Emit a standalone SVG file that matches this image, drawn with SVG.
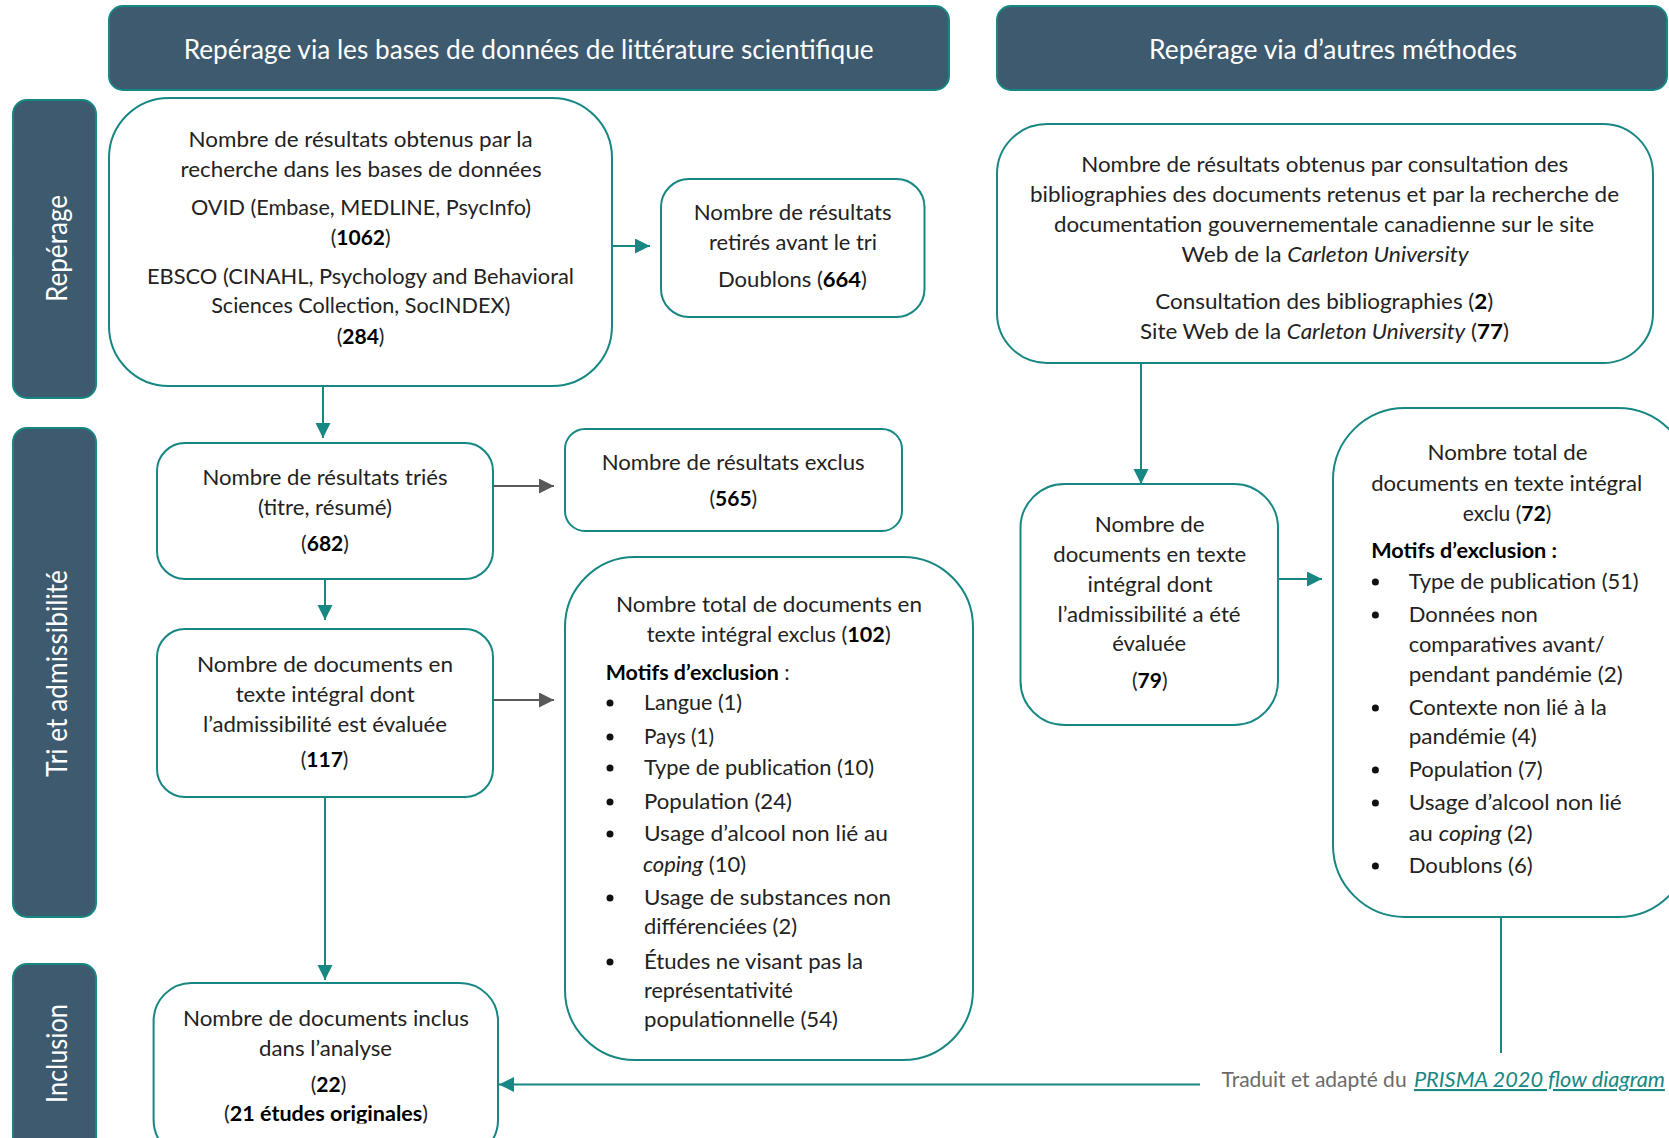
<svg xmlns="http://www.w3.org/2000/svg" width="1669" height="1138" viewBox="0 0 1669 1138">
<style>
.box{fill:#fff;stroke:#178783;stroke-width:2}
.band{fill:#3d5a6e;stroke:#178783;stroke-width:2}
text{font-family:Lato,"Open Sans","Liberation Sans",sans-serif}
.t{font-size:21px;fill:#222}
.m{text-anchor:middle}
.h{font-size:27px;fill:#fff}
.s{font-size:28px;fill:#fff}
.b{font-weight:700;fill:#000}
.i{font-style:italic}
.c{stroke:#178783;stroke-width:2;fill:none}
.g{stroke:#595959;stroke-width:2;fill:none}
.dot{fill:#111}
.f{font-size:21px;fill:#6b6b6b}
.lk{font-size:21px;fill:#178783;font-style:italic;text-decoration:underline}
</style>
<defs>
<marker id="at" markerUnits="userSpaceOnUse" markerWidth="16" markerHeight="16" refX="15" refY="7.5" orient="auto"><path d="M0,0 L15,7.5 L0,15 Z" fill="#178783"/></marker>
<marker id="ag" markerUnits="userSpaceOnUse" markerWidth="16" markerHeight="16" refX="15" refY="7.5" orient="auto"><path d="M0,0 L15,7.5 L0,15 Z" fill="#595959"/></marker>
<clipPath id="clipF"><rect x="0" y="0" width="1669" height="1123.5"/></clipPath>
</defs>

<g id="header-db">
<rect class="band" x="109" y="6" width="840" height="84" rx="14"/>
<text class="h" x="183.7" y="59" textLength="690" lengthAdjust="spacingAndGlyphs">Repérage via les bases de données de littérature scientifique</text>
</g>
<g id="header-other">
<rect class="band" x="997" y="6" width="670" height="84" rx="14"/>
<text class="h" x="1149" y="59" textLength="368" lengthAdjust="spacingAndGlyphs">Repérage via d’autres méthodes</text>
</g>

<g id="side-reperage">
<rect class="band" x="13" y="100" width="83" height="298" rx="14"/>
<text class="s" transform="translate(66.5,302) rotate(-90)" textLength="107" lengthAdjust="spacingAndGlyphs">Repérage</text>
</g>
<g id="side-tri">
<rect class="band" x="13" y="428" width="83" height="489" rx="14"/>
<text class="s" transform="translate(67,777) rotate(-90)" textLength="207" lengthAdjust="spacingAndGlyphs">Tri et admissibilité</text>
</g>
<g id="side-inclusion">
<rect class="band" x="13" y="964" width="83" height="190" rx="14"/>
<text class="s" transform="translate(67,1103) rotate(-90)" textLength="99" lengthAdjust="spacingAndGlyphs">Inclusion</text>
</g>

<g id="box-db-results">
<rect class="box" x="109" y="98" width="503" height="288" rx="60"/>
<text class="t" x="188.6" y="147" textLength="344" lengthAdjust="spacingAndGlyphs">Nombre de résultats obtenus par la</text>
<text class="t" x="180.6" y="177" textLength="361" lengthAdjust="spacingAndGlyphs">recherche dans les bases de données</text>
<text class="t" x="191" y="215" textLength="340" lengthAdjust="spacingAndGlyphs">OVID (Embase, MEDLINE, PsycInfo)</text>
<text class="t m" x="360.7" y="245">(<tspan class="b">1062</tspan>)</text>
<text class="t" x="147" y="284" textLength="427" lengthAdjust="spacingAndGlyphs">EBSCO (CINAHL, Psychology and Behavioral</text>
<text class="t" x="211.2" y="313" textLength="299" lengthAdjust="spacingAndGlyphs">Sciences Collection, SocINDEX)</text>
<text class="t m" x="360.6" y="344">(<tspan class="b">284</tspan>)</text>
</g>

<g id="box-removed">
<rect class="box" x="661" y="179" width="263.5" height="138" rx="28"/>
<text class="t" x="693.7" y="220" textLength="198" lengthAdjust="spacingAndGlyphs">Nombre de résultats</text>
<text class="t" x="709" y="250" textLength="168" lengthAdjust="spacingAndGlyphs">retirés avant le tri</text>
<text class="t" x="718" y="287" textLength="149" lengthAdjust="spacingAndGlyphs">Doublons (<tspan class="b">664</tspan>)</text>
</g>

<g id="box-other-results">
<rect class="box" x="997" y="124" width="656" height="239" rx="50"/>
<text class="t" x="1081.2" y="172" textLength="487" lengthAdjust="spacingAndGlyphs">Nombre de résultats obtenus par consultation des</text>
<text class="t" x="1030" y="202" textLength="589" lengthAdjust="spacingAndGlyphs">bibliographies des documents retenus et par la recherche de</text>
<text class="t" x="1054" y="232" textLength="540" lengthAdjust="spacingAndGlyphs">documentation gouvernementale canadienne sur le site</text>
<text class="t" x="1181.6" y="262" textLength="287" lengthAdjust="spacingAndGlyphs">Web de la <tspan class="i">Carleton University</tspan></text>
<text class="t" x="1155.3" y="309" textLength="338" lengthAdjust="spacingAndGlyphs">Consultation des bibliographies (<tspan class="b">2</tspan>)</text>
<text class="t" x="1140" y="339" textLength="369" lengthAdjust="spacingAndGlyphs">Site Web de la <tspan class="i">Carleton University</tspan> (<tspan class="b">77</tspan>)</text>
</g>

<g id="box-screened">
<rect class="box" x="157" y="443" width="336" height="136" rx="28"/>
<text class="t" x="202.5" y="485" textLength="245" lengthAdjust="spacingAndGlyphs">Nombre de résultats triés</text>
<text class="t" x="257.9" y="515" textLength="134" lengthAdjust="spacingAndGlyphs">(titre, résumé)</text>
<text class="t m" x="325" y="551">(<tspan class="b">682</tspan>)</text>
</g>

<g id="box-excluded">
<rect class="box" x="565" y="429" width="337" height="102" rx="20"/>
<text class="t" x="601.7" y="470" textLength="263" lengthAdjust="spacingAndGlyphs">Nombre de résultats exclus</text>
<text class="t m" x="733.3" y="506">(<tspan class="b">565</tspan>)</text>
</g>

<g id="box-fulltext">
<rect class="box" x="157" y="629" width="336" height="168" rx="28"/>
<text class="t" x="197" y="672" textLength="256" lengthAdjust="spacingAndGlyphs">Nombre de documents en</text>
<text class="t" x="235.7" y="702" textLength="179" lengthAdjust="spacingAndGlyphs">texte intégral dont</text>
<text class="t" x="203" y="732" textLength="244" lengthAdjust="spacingAndGlyphs">l’admissibilité est évaluée</text>
<text class="t m" x="324.6" y="767">(<tspan class="b">117</tspan>)</text>
</g>

<g id="box-fulltext-excluded">
<rect class="box" x="565" y="557" width="408" height="503" rx="70"/>
<text class="t" x="616" y="612" textLength="306" lengthAdjust="spacingAndGlyphs">Nombre total de documents en</text>
<text class="t" x="646.7" y="642" textLength="244" lengthAdjust="spacingAndGlyphs">texte intégral exclus (<tspan class="b">102</tspan>)</text>
<text class="t" x="605.7" y="680" textLength="184" lengthAdjust="spacingAndGlyphs"><tspan class="b">Motifs d’exclusion</tspan> :</text>
<circle class="dot" cx="610" cy="703" r="3.5"/>
<text class="t" x="644" y="710" textLength="98" lengthAdjust="spacingAndGlyphs">Langue (1)</text>
<circle class="dot" cx="610" cy="737" r="3.5"/>
<text class="t" x="644" y="744" textLength="70" lengthAdjust="spacingAndGlyphs">Pays (1)</text>
<circle class="dot" cx="610" cy="768" r="3.5"/>
<text class="t" x="644" y="775" textLength="230" lengthAdjust="spacingAndGlyphs">Type de publication (10)</text>
<circle class="dot" cx="610" cy="802" r="3.5"/>
<text class="t" x="644" y="809" textLength="148" lengthAdjust="spacingAndGlyphs">Population (24)</text>
<circle class="dot" cx="610" cy="834" r="3.5"/>
<text class="t" x="644" y="841" textLength="244" lengthAdjust="spacingAndGlyphs">Usage d’alcool non lié au</text>
<text class="t" x="643" y="872" textLength="103" lengthAdjust="spacingAndGlyphs"><tspan class="i">coping</tspan> (10)</text>
<circle class="dot" cx="610" cy="898" r="3.5"/>
<text class="t" x="644" y="905" textLength="247" lengthAdjust="spacingAndGlyphs">Usage de substances non</text>
<text class="t" x="644" y="934" textLength="153" lengthAdjust="spacingAndGlyphs">différenciées (2)</text>
<circle class="dot" cx="610" cy="962" r="3.5"/>
<text class="t" x="644" y="969" textLength="219" lengthAdjust="spacingAndGlyphs">Études ne visant pas la</text>
<text class="t" x="644" y="998" textLength="149" lengthAdjust="spacingAndGlyphs">représentativité</text>
<text class="t" x="644" y="1027" textLength="194" lengthAdjust="spacingAndGlyphs">populationnelle (54)</text>
</g>

<g id="box-other-fulltext">
<rect class="box" x="1020.5" y="484" width="257.5" height="241" rx="44"/>
<text class="t" x="1094.7" y="532" textLength="110" lengthAdjust="spacingAndGlyphs">Nombre de</text>
<text class="t" x="1053.3" y="562" textLength="193" lengthAdjust="spacingAndGlyphs">documents en texte</text>
<text class="t" x="1087.5" y="592" textLength="125" lengthAdjust="spacingAndGlyphs">intégral dont</text>
<text class="t" x="1057.6" y="622" textLength="183" lengthAdjust="spacingAndGlyphs">l’admissibilité a été</text>
<text class="t" x="1112.2" y="651" textLength="74" lengthAdjust="spacingAndGlyphs">évaluée</text>
<text class="t m" x="1149.7" y="688">(<tspan class="b">79</tspan>)</text>
</g>

<g id="box-other-excluded">
<rect class="box" x="1333" y="408" width="357" height="509" rx="72"/>
<text class="t" x="1427.5" y="460" textLength="160" lengthAdjust="spacingAndGlyphs">Nombre total de</text>
<text class="t" x="1371.2" y="491" textLength="271" lengthAdjust="spacingAndGlyphs">documents en texte intégral</text>
<text class="t m" x="1507" y="521">exclu (<tspan class="b">72</tspan>)</text>
<text class="t b" x="1371.2" y="558" textLength="186" lengthAdjust="spacingAndGlyphs">Motifs d’exclusion :</text>
<circle class="dot" cx="1375.4" cy="582" r="3.5"/>
<text class="t" x="1408.7" y="589" textLength="230" lengthAdjust="spacingAndGlyphs">Type de publication (51)</text>
<circle class="dot" cx="1375.4" cy="615" r="3.5"/>
<text class="t" x="1408.7" y="622" textLength="129" lengthAdjust="spacingAndGlyphs">Données non</text>
<text class="t" x="1408.7" y="652" textLength="196" lengthAdjust="spacingAndGlyphs">comparatives avant/</text>
<text class="t" x="1408.7" y="682" textLength="214" lengthAdjust="spacingAndGlyphs">pendant pandémie (2)</text>
<circle class="dot" cx="1375.4" cy="708" r="3.5"/>
<text class="t" x="1408.7" y="715" textLength="198" lengthAdjust="spacingAndGlyphs">Contexte non lié à la</text>
<text class="t" x="1408.7" y="744" textLength="128" lengthAdjust="spacingAndGlyphs">pandémie (4)</text>
<circle class="dot" cx="1375.4" cy="770" r="3.5"/>
<text class="t" x="1408.7" y="777" textLength="134" lengthAdjust="spacingAndGlyphs">Population (7)</text>
<circle class="dot" cx="1375.4" cy="803" r="3.5"/>
<text class="t" x="1408.7" y="810" textLength="213" lengthAdjust="spacingAndGlyphs">Usage d’alcool non lié</text>
<text class="t" x="1408.7" y="841" textLength="124" lengthAdjust="spacingAndGlyphs">au <tspan class="i">coping</tspan> (2)</text>
<circle class="dot" cx="1375.4" cy="866" r="3.5"/>
<text class="t" x="1408.7" y="873" textLength="124" lengthAdjust="spacingAndGlyphs">Doublons (6)</text>
</g>

<g id="box-included">
<rect class="box" x="153.6" y="983" width="344.4" height="175" rx="38"/>
<text class="t" x="182.9" y="1026" textLength="286" lengthAdjust="spacingAndGlyphs">Nombre de documents inclus</text>
<text class="t" x="259" y="1056" textLength="133" lengthAdjust="spacingAndGlyphs">dans l’analyse</text>
<text class="t m" x="328.5" y="1092">(<tspan class="b">22</tspan>)</text>
<text class="t" x="224" y="1121" textLength="204" lengthAdjust="spacingAndGlyphs" clip-path="url(#clipF)">(<tspan class="b">21 études originales</tspan>)</text>
</g>

<g id="connectors">
<line class="c" x1="612" y1="246" x2="650" y2="246" marker-end="url(#at)"/>
<line class="c" x1="323" y1="386" x2="323" y2="438" marker-end="url(#at)"/>
<line class="g" x1="493" y1="486" x2="554" y2="486" marker-end="url(#ag)"/>
<line class="c" x1="325" y1="579" x2="325" y2="620" marker-end="url(#at)"/>
<line class="g" x1="493" y1="700" x2="554" y2="700" marker-end="url(#ag)"/>
<line class="c" x1="325" y1="797" x2="325" y2="980" marker-end="url(#at)"/>
<line class="c" x1="1141" y1="363" x2="1141" y2="484" marker-end="url(#at)"/>
<line class="c" x1="1278" y1="579" x2="1322" y2="579" marker-end="url(#at)"/>
<line class="c" x1="1501" y1="917" x2="1501" y2="1053"/>
<line class="c" x1="1200" y1="1084.5" x2="499" y2="1084.5" marker-end="url(#at)"/>
</g>

<g id="footer">
<text class="f" x="1221.6" y="1087" textLength="185" lengthAdjust="spacingAndGlyphs">Traduit et adapté du</text>
<text class="lk" x="1413.9" y="1087" textLength="251" lengthAdjust="spacingAndGlyphs">PRISMA 2020 flow diagram</text>
</g>
</svg>
